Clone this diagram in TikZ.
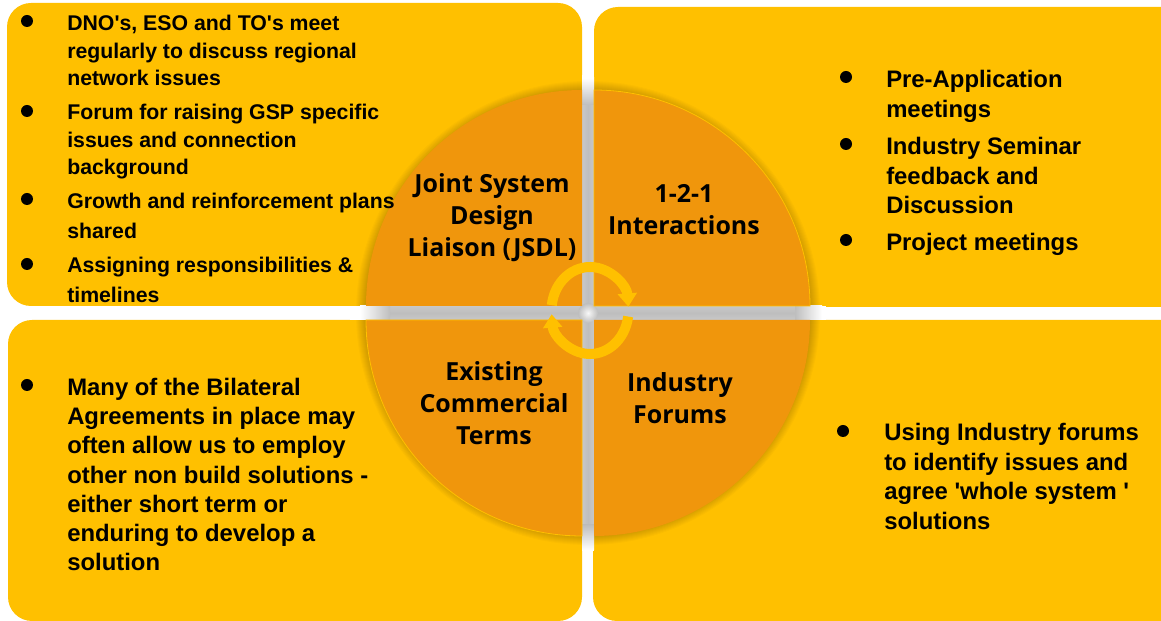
\documentclass[tikz,border=0pt]{standalone}
\usepackage{fontspec}
\setmainfont{Liberation Sans}
\newfontfamily\hubfont{Open Sans}
\usetikzlibrary{arrows.meta}
\definecolor{panelyellow}{RGB}{255,192,0}
\definecolor{hub orange}{RGB}{240,150,12}
\definecolor{bargray}{RGB}{190,190,190}
\newcommand{\apos}{\textquotesingle}
\tikzset{panel/.style={fill=panelyellow,draw=none,rounded corners=18pt}}
\tikzset{quarter/.style={fill=hub orange,draw=panelyellow,line width=0.6pt}}
\tikzset{dot/.style={circle,fill=black,inner sep=0pt,minimum size=9pt}}
\tikzset{small/.style={anchor=north west,align=left,inner sep=0pt,font=\bfseries\fontsize{15.95}{20.5}\selectfont}}
\tikzset{big/.style={anchor=north west,align=left,inner sep=0pt,font=\bfseries\fontsize{17.9}{22.2}\selectfont}}
\tikzset{hub/.style={align=center,inner sep=0pt,font=\hubfont\bfseries\fontsize{18.7}{24}\selectfont}}
\tikzset{cycle/.style={draw=panelyellow,line width=7.5pt,-{Triangle[length=10pt,width=14pt]}}}

\begin{document}
\begin{tikzpicture}[x=0.75pt,y=0.75pt]
      \useasboundingbox (0,0) rectangle (1161,621);
      % panels
      \fill[panel] (7,315) rectangle (582,618);
      \fill[panel] (594,314) rectangle (1190,614);
      \fill[panel] (8,0) rectangle (582,301);
      \fill[panel] (593,0) rectangle (1190,301);
      % hub shadow
      \coordinate (mid) at (588,308);
      \foreach \r in {1,...,10}
        \fill[black,opacity=0.02] (mid) circle (222+\r);
      % gaps
      \fill[white] (582,70) rectangle (594,546);
      \fill[white] (350,301) rectangle (826,315);
      \shade[left color=bargray!85,right color=bargray!85,middle color=bargray] (582,96) rectangle (594,516);
      \shade[top color=bargray!85,bottom color=bargray!85,middle color=bargray] (390,301) rectangle (795,315);
      \shade[top color=white,bottom color=bargray] (582,516) rectangle (594,543);
      \shade[top color=bargray,bottom color=white] (582,71) rectangle (594,96);
      \shade[left color=white,right color=bargray] (360,301) rectangle (390,315);
      \shade[left color=bargray,right color=white] (795,301) rectangle (822,315);
      \shade[inner color=white,outer color=bargray,opacity=0.9] (mid) circle (10);
      % hub
      \fill[hub orange] (582,315) -- (582,531) arc (90:180:216) -- cycle;
      \draw[quarter] (594,315) -- (594,531) arc (90:0:216) -- cycle;
      \draw[quarter] (582,301) -- (582,85) arc (270:180:216) -- cycle;
      \fill[hub orange] (594,301) -- (594,85) arc (270:360:216) -- cycle;
      % cycle arrows
      \coordinate (ring) at (590,310.5);
      \draw[cycle] (ring) ++(173:38.5 and 43.5) arc (173:5:38.5 and 43.5);
      \draw[cycle] (ring) ++(-8:38.5 and 43.5) arc (-8:-175:38.5 and 43.5);
      % hub labels
      \node[hub] (jsdl) at (492,403) {Joint System\\Design\\Liaison (JSDL)};
      \node[hub] (one) at (684,411) {1-2-1\\Interactions};
      \node[hub] (terms) at (494,218) {Existing\\Commercial\\Terms};
      \node[hub] (forums) at (680,223) {Industry\\Forums};
      % top left
      \node[dot] at (27,600) {};
      \node[dot] at (27,510) {};
      \node[dot] at (27,422) {};
      \node[dot] at (27,357) {};
      \node[small] (a) at (67,606) {DNO\apos s, ESO and TO\apos s meet\\regularly to discuss regional\\network issues};
      \node[small] (b) at (67,517) {Forum for raising GSP specific\\issues and connection\\background};
      \node[small] (c) at (67,428) {Growth and reinforcement plans\\[2pt]shared};
      \node[small] (d) at (67,364) {Assigning responsibilities \&\\[2pt]timelines};
      % top right
      \node[dot] at (846,544) {};
      \node[dot] at (846,477) {};
      \node[dot] at (846,381) {};
      \node[big] (e) at (886,551) {Pre-Application\\meetings};
      \node[big] (f) at (886,484) {Industry Seminar\\feedback and\\Discussion};
      \node[big] (g) at (886,388) {Project meetings};
      % bottom left
      \node[dot] at (27,236) {};
      \node[big,font=\bfseries\fontsize{17.9}{21.9}\selectfont] (h) at (67,243) {Many of the Bilateral\\Agreements in place may\\often allow us to employ\\other non build solutions -\\either short term or\\enduring to develop a\\solution};
      % bottom right
      \node[dot] at (843,190) {};
      \node[big] (i) at (884,198) {Using Industry forums\\to identify issues and\\agree \apos whole system \apos\\solutions};
    \end{tikzpicture}
\end{document}
